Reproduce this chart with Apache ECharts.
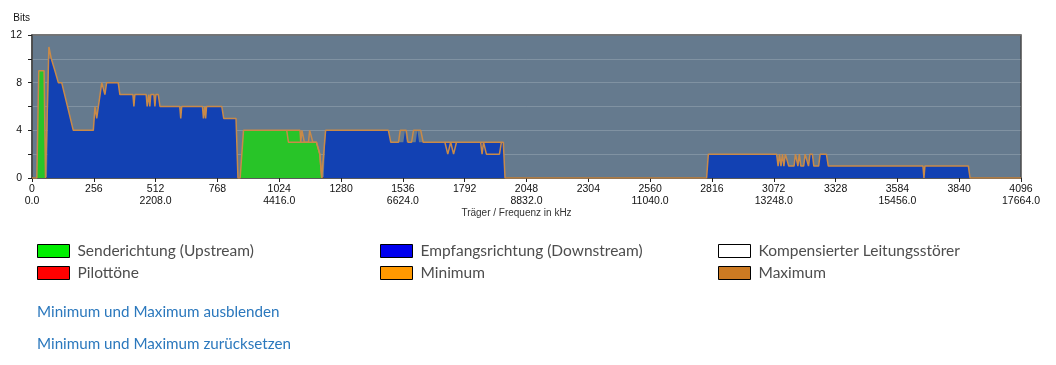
<!DOCTYPE html>
<html>
<head>
<meta charset="utf-8">
<script src="https://cdn.jsdelivr.net/npm/echarts@6/dist/echarts.min.js"></script>
<style>
html,body{margin:0;padding:0;background:#fff;}
#chart{width:1056px;height:365px;}
</style>
</head>
<body>
<div id="chart"></div>
<script>
// ---- data ----
const xTickCarriers = [0,256,512,768,1024,1280,1536,1792,2048,2304,2560,2816,3072,3328,3584,3840,4096];
const xFreqLabelCarriers = [0,512,1024,1536,2048,2560,3072,3584,4096];
const yTickBits = [0,4,8,12];

// Upstream (Senderichtung) bits per carrier, breakpoints
const usCarrier = [0,20,28,50,56,862,876,1110,1113,1178,1192,1200];
const usBits    = [0, 0, 9, 9, 0,  0,  4,   4,   3,   3,   2,   0];

// Downstream (Empfangsrichtung) bits per carrier, breakpoints
const dsCarrier = [62,70,80,95,109,123,171,254,261,268,275,289,296,302,309,357,364,418,422,426,473,477,484,488,492,505,509,513,523,530,612,616,620,706,710,716,719,723,786,794,845,853,
  1208,1216,1476,1486,1538,1545,1552,1589,1596,1603,1952,1959,
  2794,2801,3084,3090,3096,3102,3108,3114,3120,3128,3134,3156,3162,3166,3172,3178,3184,3196,3202,3210,3216,3222,3232,3238,3258,3264,3290,3298,3690,3694,3698,3878,3885];
const dsBits    = [0,10,10,9,8,8,4,4,6,5,5,8,8,7,8,8,7,7,6,7,7,6,7,6,7,7,6,7,7,6,6,5,6,6,5,6,5,6,6,5,5,0,
  0,4,4,3,3,4,3,3,4,3,3,0,
  0,2,2,1,2,1,2,1,2,2,1,1,2,2,1,2,1,1,2,2,1,2,2,1,1,2,2,1,1,0,1,1,0];

// Maximum line, breakpoints
const maxCarrier = [0,20,28,50,56,62,70,80,95,109,123,171,254,261,268,275,289,296,302,309,357,364,418,422,426,473,477,484,488,492,505,509,513,523,530,612,616,620,706,710,716,719,723,786,794,845,853,
  862,876,1110,1113,1118,1124,1128,1145,1150,1158,1163,1178,1192,1200,
  1208,1216,1476,1486,1518,1525,1550,1557,1572,1580,1610,1620,1952,1959,
  2794,2801,3084,3090,3096,3102,3108,3114,3120,3128,3134,3156,3162,3166,3172,3178,3184,3196,3202,3210,3216,3222,3232,3238,3258,3264,3290,3298,3690,3694,3698,3878,3885,4096];
const maxBits    = [0,0,9,9,0,0,11,10,9,8,8,4,4,6,5,5,8,8,7,8,8,7,7,6,7,7,6,7,6,7,7,6,7,7,6,6,5,6,6,5,6,5,6,6,5,5,0,
  0,4,4,3,4,4,3,3,4,4,3,3,2,0,
  0,4,4,3,3,4,4,3,3,4,4,3,3,0,
  0,2,2,1,2,1,2,1,2,2,1,1,2,2,1,2,1,1,2,2,1,2,2,1,1,2,2,1,1,0,1,1,0,0];

// Minimum line where it departs from the maximum (null = gap)
const minCarrier = [1055,1062,1178,1192,1200,1201, 1710,1722,1734,1746,1758,1759, 1858,1864,1870,1876,1882,1936,1944];
const minBits    = [4,3,3,2,0,null, 3,2,3,2,3,null, 3,2,3,3,2,2,3];

const legendCol1 = ['Senderichtung (Upstream)','Pilottöne'];
const legendCol2 = ['Empfangsrichtung (Downstream)','Minimum'];
const legendCol3 = ['Kompensierter Leitungsstörer','Maximum'];
const linkTexts = ['Minimum und Maximum ausblenden','Minimum und Maximum zurücksetzen'];

const pairs = (xs, ys) => xs.map((x, i) => [x, ys[i] === null ? '-' : ys[i]]);

const chart = echarts.init(document.getElementById('chart'));
const lineColor = '#c98a48';
const legendText = {fontFamily:'Lato', fontSize:15.5, color:'#4d4d4d', padding:[0,0,0,3]};
const mkLegend = (left, names, styles) => ({
  left: left, top: 243, padding: 0, orient: 'vertical', icon: 'rect',
  itemWidth: 32, itemHeight: 13, itemGap: 6, selectedMode: false,
  textStyle: Object.assign({lineHeight:16}, legendText),
  data: names.map((n, i) => ({name: n, itemStyle: styles[i]}))
});

chart.setOption({
  animation: false,
  grid: {left: 32, right: 35, top: 35, bottom: 187, show: true, backgroundColor: '#657a8e', borderColor: '#4a4a4a', borderWidth: 1.5},
  xAxis: {
    type: 'value', min: 0, max: 4096, interval: 256,
    name: 'Träger / Frequenz in kHz', nameLocation: 'middle', nameGap: 30,
    nameTextStyle: {fontFamily: 'Liberation Sans', fontSize: 10, color: '#333', padding: [0, 20, 0, 0]},
    axisLine: {show: true, lineStyle: {color: '#4a4a4a', width: 1.5}},
    axisTick: {show: true, length: 4, lineStyle: {color: '#222'}},
    splitLine: {show: false},
    axisLabel: {
      margin: 5, fontFamily: 'Liberation Sans', fontSize: 10.5, color: '#111', lineHeight: 12,
      customValues: xTickCarriers,
      formatter: v => v + '\n' + (xFreqLabelCarriers.indexOf(v) >= 0 ? (v * 4.3125).toFixed(1) : ' ')
    }
  },
  yAxis: {
    type: 'value', min: 0, max: 12, interval: 2,
    name: 'Bits', nameLocation: 'end', nameGap: 12,
    nameTextStyle: {fontFamily: 'Liberation Sans', fontSize: 10, color: '#111', align: 'right', padding: [0, 2, 0, 0]},
    axisLine: {show: true, lineStyle: {color: '#4a4a4a', width: 1.5}},
    axisTick: {show: true, length: 4, lineStyle: {color: '#222'}},
    splitLine: {show: true, lineStyle: {color: 'rgba(255,255,255,0.18)', width: 1}},
    axisLabel: {
      margin: 10, fontFamily: 'Liberation Sans', fontSize: 10.5, color: '#111',
      formatter: v => (yTickBits.indexOf(v) >= 0 ? String(v) : '')
    }
  },
  legend: [
    mkLegend(37, legendCol1, [{color:'#00ee00', borderColor:'#000', borderWidth:1},{color:'#ff0000', borderColor:'#000', borderWidth:1}]),
    mkLegend(380, legendCol2, [{color:'#0000ee', borderColor:'#000', borderWidth:1},{color:'#ff9900', borderColor:'#000', borderWidth:1}]),
    mkLegend(718, legendCol3, [{color:'#ffffff', borderColor:'#000', borderWidth:1},{color:'#cc7a22', borderColor:'#000', borderWidth:1}])
  ],
  graphic: [
    {type:'text', left: 37, top: 305, style:{text: linkTexts[0], fontFamily:'Lato', fontSize:15.2, fill:'#2b78bd'}},
    {type:'text', left: 37, top: 337, style:{text: linkTexts[1], fontFamily:'Lato', fontSize:15.2, fill:'#2b78bd'}}
  ],
  series: [
    {name: legendCol1[0], type: 'line', data: pairs(usCarrier, usBits), symbol: 'none', lineStyle: {width: 0}, itemStyle:{color:'#28c428'}, areaStyle: {color: '#28c428', opacity: 1}, z: 2},
    {name: legendCol2[0], type: 'line', data: pairs(dsCarrier, dsBits), symbol: 'none', lineStyle: {width: 0}, itemStyle:{color:'#1241b3'}, areaStyle: {color: '#1241b3', opacity: 1}, z: 3},
    {name: legendCol1[1], type: 'line', data: [], symbol: 'none'},
    {name: legendCol3[0], type: 'line', data: [], symbol: 'none'},
    {name: legendCol2[1], type: 'line', data: pairs(minCarrier, minBits), connectNulls: false, symbol: 'none', lineStyle: {width: 1.5, color: lineColor}, itemStyle:{color:lineColor}, z: 4},
    {name: legendCol3[1], type: 'line', data: pairs(maxCarrier, maxBits), symbol: 'none', lineStyle: {width: 1.5, color: lineColor}, itemStyle:{color:lineColor}, z: 5}
  ]
});
</script>
</body>
</html>
